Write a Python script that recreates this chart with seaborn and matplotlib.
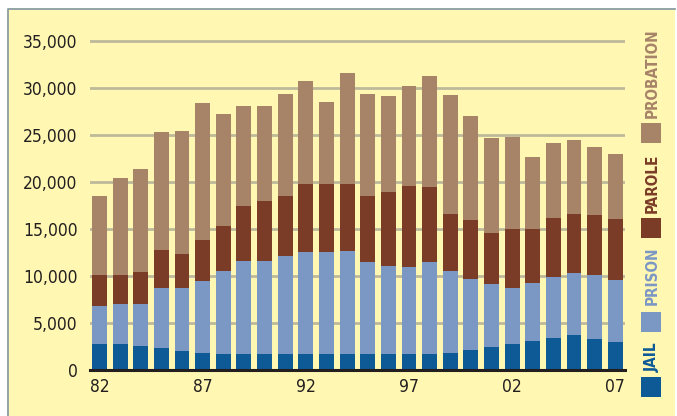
import numpy as np
import pandas as pd
import matplotlib
matplotlib.use("Agg")
import matplotlib.pyplot as plt
from matplotlib import font_manager
from matplotlib.patches import Rectangle
import seaborn as sns

# Values (people, by year)
years = ["82", "83", "84", "85", "86", "87", "88", "89", "90", "91", "92", "93", "94",
         "95", "96", "97", "98", "99", "00", "01", "02", "03", "04", "05", "06", "07"]
jail = [2770, 2770, 2520, 2310, 1990, 1780, 1670, 1670, 1670, 1670, 1670, 1670, 1670,
        1670, 1670, 1670, 1670, 1780, 2100, 2420, 2730, 3050, 3370, 3690, 3270, 2950]
prison = [4010, 4220, 4470, 6380, 6700, 7660, 8830, 9890, 9890, 10430, 10850, 10850, 10960,
          9790, 9360, 9260, 9790, 8720, 7550, 6700, 5960, 6170, 6490, 6600, 6800, 6590]
parole = [3300, 3090, 3400, 4040, 3620, 4360, 4790, 5850, 6380, 6380, 7230, 7230, 7130,
          7020, 7870, 8620, 7980, 6070, 6280, 5430, 6280, 5740, 6280, 6280, 6380, 6490]
probation = [8400, 10320, 10960, 12550, 13090, 14580, 11910, 10640, 10110, 10850, 10960, 8720, 11810,
             10850, 10210, 10640, 11810, 12660, 11060, 10110, 9790, 7660, 7980, 7870, 7230, 6920]

series = ["JAIL", "PRISON", "PAROLE", "PROBATION"]
colors = ["#0d5a97", "#7b97c4", "#7a3c27", "#a78368"]
bg = "#fff7b2"

df = pd.DataFrame({"year": years, "JAIL": jail, "PRISON": prison,
                   "PAROLE": parole, "PROBATION": probation})

# pick a narrow font if one is around
names = {f.name for f in font_manager.fontManager.ttflist}
stretch = "normal"
if "Liberation Sans Narrow" in names:
    family = "Liberation Sans Narrow"
else:
    family = "DejaVu Sans"
    if any(f.name == "DejaVu Sans" and f.stretch == "condensed"
           for f in font_manager.fontManager.ttflist):
        stretch = "condensed"
plt.rcParams["font.family"] = [family, "DejaVu Sans"]
plt.rcParams["font.stretch"] = stretch

fig = plt.figure(figsize=(6.77, 4.16), dpi=100, facecolor="white")
fig.patches.append(Rectangle((7 / 677, 0), 668 / 677, 408 / 416, transform=fig.transFigure,
                             facecolor=bg, edgecolor="none", zorder=-5))
# thin grey-blue frame on the top and left edges only
fig.add_artist(plt.Line2D([7.5 / 677, 7.5 / 677, 675 / 677], [0, 407.5 / 416, 407.5 / 416],
                          transform=fig.transFigure, color="#8a9ea6", linewidth=1.3,
                          zorder=-4))

ax = fig.add_axes([90 / 677, 46.3 / 416, 535 / 677, 331.8 / 416])
ax.set_facecolor("none")

# stacked bars: draw cumulative totals from the top layer down
cum = df[series].cumsum(axis=1)
for name, col in reversed(list(zip(series, colors))):
    sns.barplot(x=df["year"], y=cum[name], color=col, width=0.72, saturation=1,
                ax=ax, zorder=3)

ax.set_xlim(-0.46, 25.47)
ax.set_ylim(0, 35300)
ax.set_yticks(np.arange(0, 35001, 5000))
ax.set_yticklabels([f"{v:,}" for v in range(0, 35001, 5000)])
ax.set_xticks(range(0, 26, 5))
ax.set_xticklabels([years[i] for i in range(0, 26, 5)])
ax.set_xlabel("")
ax.set_ylabel("")
ax.grid(axis="y", color="#bdb99b", linewidth=2, zorder=1)
ax.grid(axis="x", visible=False)
ax.set_axisbelow(True)
for s in ["top", "right", "left"]:
    ax.spines[s].set_visible(False)
ax.spines["bottom"].set_color("#231f20")
ax.spines["bottom"].set_linewidth(2.2)
ax.spines["bottom"].set_zorder(5)
ax.tick_params(axis="both", length=0, labelsize=12.5, colors="#231f20")
ax.tick_params(axis="y", pad=9)
ax.tick_params(axis="x", pad=6)

# legend on the right: coloured squares with rotated labels above each
legend_items = [("JAIL", 377, 372), ("PRISON", 312, 305), ("PAROLE", 218, 213),
                ("PROBATION", 123, 118)]
for (name, sq_top, txt_bottom), col in zip(legend_items, colors):
    fig.patches.append(Rectangle((641 / 677, 1 - (sq_top + 20) / 416), 20 / 677, 20 / 416,
                                 transform=fig.transFigure, facecolor=col,
                                 edgecolor="none", zorder=2))
    fig.text(652 / 677, 1 - txt_bottom / 416, name, rotation=90, color=col,
             fontsize=11, fontweight="bold", ha="center", va="bottom")

fig.savefig("out.png", dpi=100, facecolor="white")
